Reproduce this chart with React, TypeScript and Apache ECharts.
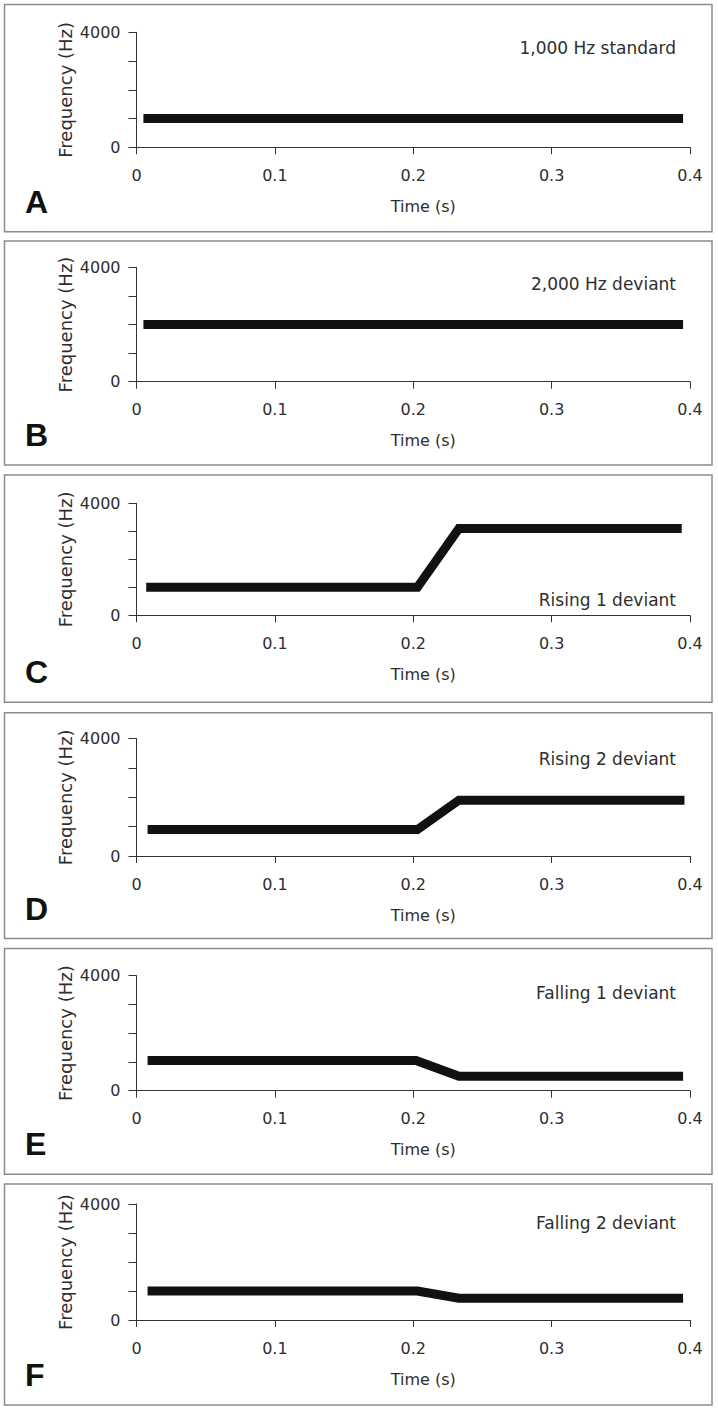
import React, { useEffect, useRef } from "react";
import * as echarts from "echarts";

// ---- data ----
const panelLetters = ["A", "B", "C", "D", "E", "F"];
const conditionLabels = [
  "1,000 Hz standard",
  "2,000 Hz deviant",
  "Rising 1 deviant",
  "Rising 2 deviant",
  "Falling 1 deviant",
  "Falling 2 deviant",
];
const standardTime = [0.005, 0.395];
const standardFreq = [1000, 1000];
const deviant2000Time = [0.005, 0.395];
const deviant2000Freq = [2000, 2000];
const rising1Time = [0.007, 0.203, 0.233, 0.394];
const rising1Freq = [1000, 1000, 3100, 3100];
const rising2Time = [0.008, 0.203, 0.233, 0.396];
const rising2Freq = [900, 900, 1900, 1900];
const falling1Time = [0.008, 0.202, 0.233, 0.395];
const falling1Freq = [1050, 1050, 500, 500];
const falling2Time = [0.008, 0.203, 0.233, 0.395];
const falling2Freq = [1000, 1000, 750, 750];
const yLabelValues = [0, 4000];
const xAxisName = "Time (s)";
const yAxisName = "Frequency (Hz)";

const seriesTimes = [standardTime, deviant2000Time, rising1Time, rising2Time, falling1Time, falling2Time];
const seriesFreqs = [standardFreq, deviant2000Freq, rising1Freq, rising2Freq, falling1Freq, falling2Freq];

// ---- layout (pixels) ----
const W = 718;
const H = 1410;
const layout = [
  { boxTop: 4.5, boxBottom: 231.7, gridTop: 32.3, gridBottom: 147.3, noteY: 48 },
  { boxTop: 241, boxBottom: 465, gridTop: 267.3, gridBottom: 381.7, noteY: 284 },
  { boxTop: 475, boxBottom: 702.3, gridTop: 503.3, gridBottom: 615.3, noteY: 600 },
  { boxTop: 712.7, boxBottom: 938.5, gridTop: 738.5, gridBottom: 856, noteY: 759.3 },
  { boxTop: 948.5, boxBottom: 1174.3, gridTop: 975.7, gridBottom: 1090.7, noteY: 993 },
  { boxTop: 1184, boxBottom: 1405, gridTop: 1204, gridBottom: 1320, noteY: 1223 },
];
const gridLeft = 136.5;
const gridRightEdge = 690;
const textColor = "#2e2e2e";
const axisColor = "#333333";
const font = "DejaVu Sans";

export default function App() {
  const ref = useRef<HTMLDivElement>(null);

  useEffect(() => {
    if (!ref.current) return;
    const chart = echarts.init(ref.current, null, { renderer: "svg" });

    const grids: any[] = [];
    const xAxes: any[] = [];
    const yAxes: any[] = [];
    const series: any[] = [];
    const graphics: any[] = [];

    layout.forEach((l, i) => {
      grids.push({
        left: gridLeft,
        top: l.gridTop,
        width: gridRightEdge - gridLeft,
        height: l.gridBottom - l.gridTop,
        containLabel: false,
      });
      xAxes.push({
        type: "value",
        gridIndex: i,
        min: 0,
        max: 0.4,
        interval: 0.1,
        name: xAxisName,
        nameLocation: "middle",
        nameGap: 51,
        nameMoveOverlap: false,
        nameTextStyle: { color: textColor, fontSize: 16, fontFamily: font, padding: [0, 0, 0, 20] },
        axisLine: { show: true, onZero: false, lineStyle: { color: axisColor, width: 1 } },
        axisTick: { show: true, inside: false, length: 7, lineStyle: { color: axisColor, width: 1 } },
        axisLabel: {
          show: true,
          margin: 20,
          color: textColor,
          fontSize: 16,
          fontFamily: font,
          formatter: (v: number) => String(Math.round(v * 10) / 10),
        },
        splitLine: { show: false },
      });
      yAxes.push({
        type: "value",
        gridIndex: i,
        min: 0,
        max: 4000,
        interval: 1000,
        name: yAxisName,
        nameLocation: "middle",
        nameRotate: 90,
        nameGap: 62,
        nameMoveOverlap: false,
        nameTextStyle: { color: textColor, fontSize: 18, fontFamily: font },
        axisLine: { show: true, onZero: false, lineStyle: { color: axisColor, width: 1 } },
        axisTick: { show: true, inside: false, length: 8, lineStyle: { color: axisColor, width: 1 } },
        axisLabel: {
          show: true,
          margin: 16,
          color: textColor,
          fontSize: 16,
          fontFamily: font,
          formatter: (v: number) => (yLabelValues.includes(v) ? String(v) : ""),
        },
        splitLine: { show: false },
      });
      const t = seriesTimes[i];
      const f = seriesFreqs[i];
      series.push({
        type: "line",
        xAxisIndex: i,
        yAxisIndex: i,
        data: t.map((x, k) => [x, f[k]]),
        symbol: "none",
        lineStyle: { color: "#111111", width: 9, cap: "butt", join: "miter" },
        silent: true,
      });

      graphics.push({
        type: "rect",
        shape: { x: 4.5, y: l.boxTop, width: 707.5, height: l.boxBottom - l.boxTop },
        style: { fill: "none", stroke: "#8c8c8c", lineWidth: 1.5 },
        silent: true,
      });
      graphics.push({
        type: "text",
        x: 25,
        y: l.boxBottom - 30,
        style: {
          text: panelLetters[i],
          fill: "#111111",
          fontSize: 32,
          fontWeight: "bold",
          fontFamily: "Liberation Sans",
          align: "left",
          verticalAlign: "middle",
        },
        silent: true,
      });
      graphics.push({
        type: "text",
        x: 676,
        y: l.noteY,
        style: {
          text: conditionLabels[i],
          fill: textColor,
          fontSize: 17,
          fontFamily: font,
          align: "right",
          verticalAlign: "middle",
        },
        silent: true,
      });
    });

    chart.setOption({
      animation: false,
      backgroundColor: "#ffffff",
      grid: grids,
      xAxis: xAxes,
      yAxis: yAxes,
      series,
      graphic: { elements: graphics },
    });

    return () => chart.dispose();
  }, []);

  return (
    <div
      ref={ref}
      style={{ position: "absolute", left: 0, top: 0, width: W, height: H, background: "#fff" }}
    />
  );
}
